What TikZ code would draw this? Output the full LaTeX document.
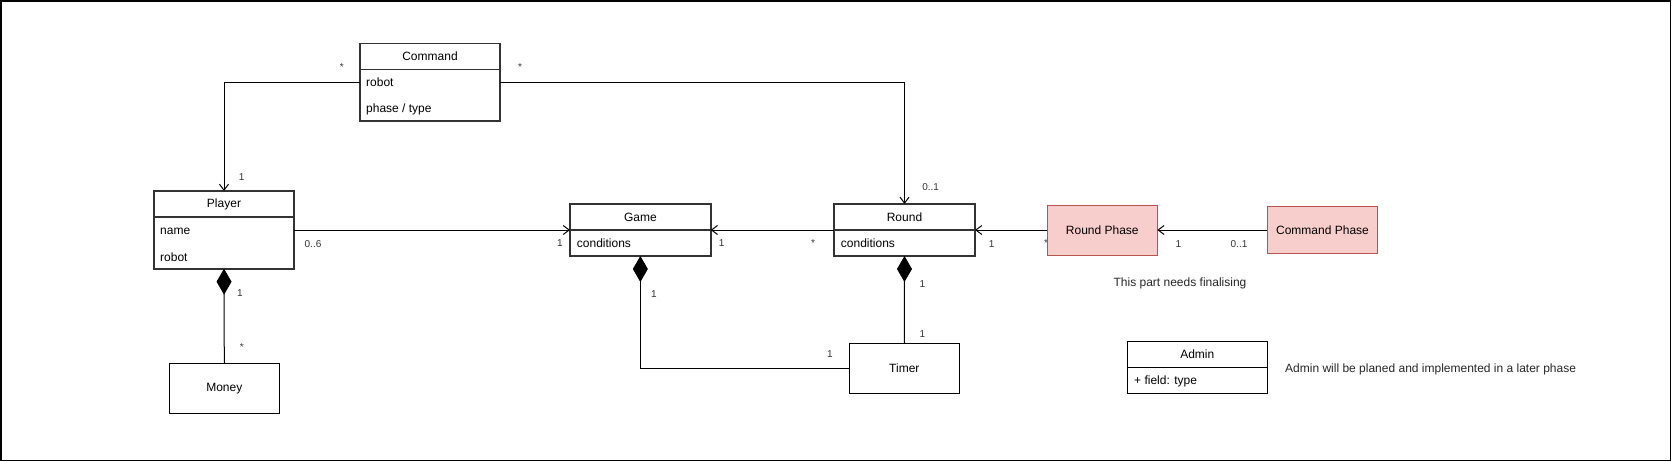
\documentclass[tikz,border=0pt]{standalone}
\usepackage{fontspec}
\setmainfont{Liberation Sans}
\usetikzlibrary{arrows.meta,positioning}
\definecolor{phasefill}{HTML}{F8CECC}
\definecolor{phaseline}{HTML}{B85450}

\tikzset{
  classhead/.style={draw=black!80, line width=1.6pt, outer sep=0pt, inner sep=0pt,
    minimum width=140pt, minimum height=26pt, font=\fontsize{12}{14}\selectfont},
  classbody/.style={draw=black!80, line width=1.6pt, outer sep=0pt, inner sep=0pt,
    minimum width=140pt},
  thinhead/.style={classhead, draw=black, line width=1pt},
  thinbody/.style={classbody, draw=black, line width=1pt},
  attr/.style={anchor=west, inner sep=0pt, font=\fontsize{12}{14}\selectfont},
  plainbox/.style={draw, line width=1pt, outer sep=0pt, minimum width=110pt,
    minimum height=50pt, font=\fontsize{12}{14}\selectfont},
  phasebox/.style={plainbox, fill=phasefill, draw=phaseline},
  mult/.style={inner sep=0pt, text height=7.2pt, text depth=0pt, text=black!80,
    font=\fontsize{10}{12}\selectfont},
  note/.style={inner sep=0pt, text=black!85, font=\fontsize{12}{14}\selectfont},
  assoc/.style={line width=1pt, -{Straight Barb[length=6pt,width=9pt]}},
  compos/.style={line width=1pt, {Diamond[length=26pt,width=15pt]}-},
}

\begin{document}
\begin{tikzpicture}[x=1pt, y=-1pt]
\useasboundingbox (0,0) rectangle (1672,461);
\draw[line width=1.5pt] (0.75,0.75) rectangle (1670.25,460.25);

% classes
\path (360,43.3) node (cmdH) [classhead, anchor=north west] {Command};
\node (cmdB) [classbody, minimum height=51.7pt, below=0pt of cmdH] {};
\path (366,82.3) node (cmdRobot) [attr] {robot};
\path (366,109) node (cmdPhase) [attr] {phase / type};

\path (154,191) node (plH) [classhead, anchor=north west] {Player};
\node (plB) [classbody, minimum height=51.7pt, below=0pt of plH] {};
\path (160,231) node (plName) [attr] {name};
\path (160,257) node (plRobot) [attr] {robot};

\path (570,204) node (gmH) [classhead, anchor=north west, minimum width=140.7pt] {Game};
\node (gmB) [classbody, minimum width=140.7pt, minimum height=26pt, below=0pt of gmH] {};
\path (576.7,243.5) node (gmCond) [attr] {conditions};

\path (834,204) node (rdH) [classhead, anchor=north west, minimum width=141pt] {Round};
\node (rdB) [classbody, minimum width=141pt, minimum height=26pt, below=0pt of rdH] {};
\path (840.7,243.5) node (rdCond) [attr] {conditions};

\path (1127.3,341.7) node (adH) [thinhead, anchor=north west] {Admin};
\node (adB) [thinbody, minimum height=26pt, below=0pt of adH] {};
\path (1134,381) node (adField) [attr] {+ field: type};

\path (224.3,388.3) node (money) [plainbox] {Money};
\path (904.3,368.3) node (timer) [plainbox] {Timer};

% label hidden under the phase box
\path (1046,243) node (mRpStar) [mult] {*};
\path (1102.3,230.3) node (rPhase) [phasebox] {Round Phase};
\path (1322.5,230.3) node (cPhase) [phasebox, minimum width=110.4pt, minimum height=47.3pt] {Command Phase};

% associations
\draw[assoc] (cmdB.west |- cmdRobot) -| (plH.north);
\draw[assoc] (cmdB.east |- cmdRobot) -| (rdH.north);
\draw[assoc] (plB.east |- gmH.south) -- (gmH.south west);
\draw[assoc] (rdH.south west) -- (gmH.south east);
\draw[assoc] (rPhase.west |- rdH.south) -- (rdH.south east);
\draw[assoc] (cPhase.west |- rdH.south) -- (rPhase.east |- rdH.south);

% compositions
\draw[compos] (plB.south) -- (money.north);
\draw[compos] (gmB.south) |- (timer.west);
\draw[compos] (rdB.south) -- (timer.north);

% multiplicities
\path (341.7,67) node (mCmdL) [mult] {*};
\path (520,67) node (mCmdR) [mult] {*};
\path (241.7,176.7) node (mPlTop) [mult] {1};
\path (930.7,187.3) node (mRdTop) [mult] {0..1};
\path (313,244) node (mPlGm) [mult] {0..6};
\path (560,243.3) node (mGmL) [mult] {1};
\path (721.7,243.3) node (mGmR) [mult] {1};
\path (813,243.3) node (mRdL) [mult] {*};
\path (991.7,244) node (mRdR) [mult] {1};
\path (1178.3,244) node (mRpR) [mult] {1};
\path (1239,244) node (mCp) [mult] {0..1};
\path (240,293.3) node (mPlDia) [mult] {1};
\path (241.7,347) node (mMoney) [mult] {*};
\path (654,294.3) node (mGmDia) [mult] {1};
\path (830,354.3) node (mTmL) [mult] {1};
\path (922.3,284.3) node (mRdDia) [mult] {1};
\path (922.3,334.3) node (mTmT) [mult] {1};

% notes
\path (1180,283.3) node (noteRp) [note] {This part needs finalising};
\path (1285,369.3) node (noteAd) [note, anchor=west] {Admin will be planed and implemented in a later phase};
\end{tikzpicture}
\end{document}
